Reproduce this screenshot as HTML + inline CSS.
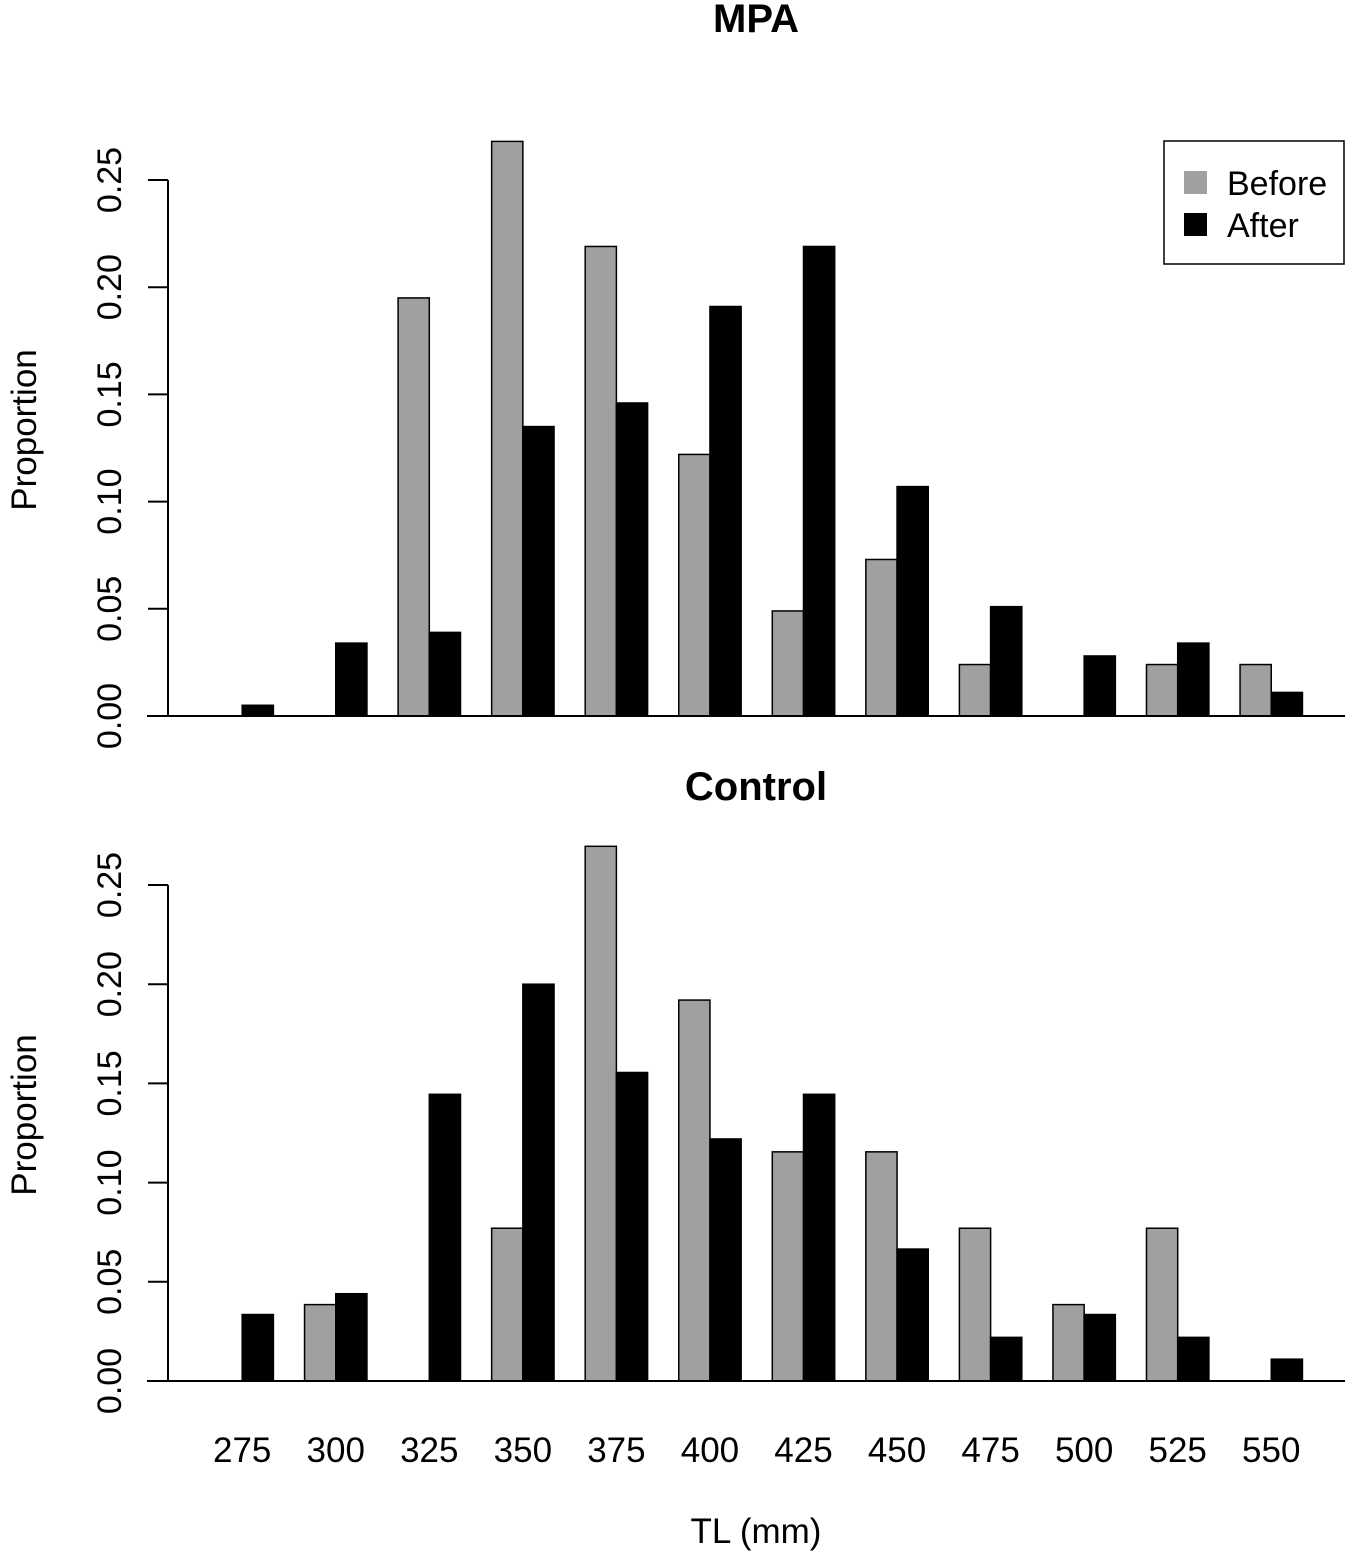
<!DOCTYPE html>
<html><head><meta charset="utf-8">
<style>
html,body{margin:0;padding:0;background:#fff;}
svg{display:block;font-family:"Liberation Sans",sans-serif;}
</style></head>
<body>
<svg id="chart" width="1350" height="1555" viewBox="0 0 1350 1555"></svg>
<script>
const categories = ["275","300","325","350","375","400","425","450","475","500","525","550"];
const mpaBefore = [0,0,0.195,0.268,0.219,0.122,0.049,0.073,0.024,0,0.024,0.024];
const mpaAfter = [0.005,0.034,0.039,0.135,0.146,0.191,0.219,0.107,0.051,0.028,0.034,0.011];
const ctlBefore = [0,0.0385,0,0.077,0.2695,0.192,0.1155,0.1155,0.077,0.0385,0.077,0];
const ctlAfter = [0.0335,0.044,0.1445,0.2,0.1555,0.122,0.1445,0.0665,0.022,0.0335,0.022,0.011];
const yTicks = ["0.00","0.05","0.10","0.15","0.20","0.25"];

const NS="http://www.w3.org/2000/svg";
const svg=document.getElementById('chart');
function mk(tag,attrs,parent){const e=document.createElementNS(NS,tag);for(const k in attrs)e.setAttribute(k,attrs[k]);(parent||svg).appendChild(e);return e;}

const barW=31.2, groupStep=93.55, firstGray=211;
function xGray(i){return firstGray+i*groupStep;}

function panel(name,title,titleY,y0,y25,before,after){
  const g=mk('g',{});
  
  
  const yS=v=>y0-(v/0.25)*(y0-y25);
  const t=mk('text',{x:756,y:titleY,'text-anchor':'middle','font-size':40,'font-weight':'bold'},g);
  t.textContent=title;
  
  
  const ax=mk('line',{x1:168,x2:168,y1:yS(0),y2:yS(0.25),stroke:'#000','stroke-width':2},g);
  
  
  yTicks.forEach((lab)=>{
    const v=parseFloat(lab), y=yS(v);
    const tk=mk('line',{x1:148,x2:168,y1:y,y2:y,stroke:'#000','stroke-width':2},g);
    
    
    const tl=mk('text',{x:0,y:0,'text-anchor':'middle','font-size':34,transform:`translate(121,${y}) rotate(-90)`},g);
    tl.textContent=lab;
    
    
  });
  const yl=mk('text',{x:0,y:0,'text-anchor':'middle','font-size':35,transform:`translate(36,${(yS(0)+yS(0.25))/2-18}) rotate(-90)`},g);
  yl.textContent='Proportion';
  
  
  categories.forEach((c,i)=>{
    const xg=xGray(i);
    if(before[i]>0){
      const r=mk('rect',{x:xg,y:yS(before[i]),width:barW,height:yS(0)-yS(before[i]),fill:'#a0a0a0',stroke:'#000','stroke-width':1.5},g);
      
      
    }
    if(after[i]>0){
      const r=mk('rect',{x:xg+barW,y:yS(after[i]),width:barW,height:yS(0)-yS(after[i]),fill:'#000',stroke:'#000','stroke-width':1.5},g);
      
      
    }
  });
  const bl=mk('line',{x1:147,x2:1345,y1:yS(0),y2:yS(0),stroke:'#000','stroke-width':2},g);
  
  
}
panel('mpa','MPA',32,716,180,mpaBefore,mpaAfter);
panel('control','Control',800,1381,885,ctlBefore,ctlAfter);

categories.forEach((c,i)=>{
  const t=mk('text',{x:xGray(i)+barW,y:1462,'text-anchor':'middle','font-size':35});
  t.textContent=c;
  
  
});
const xt=mk('text',{x:756,y:1543,'text-anchor':'middle','font-size':35});
xt.textContent='TL (mm)';



const lg=mk('g',{});


mk('rect',{x:1164,y:141,width:180,height:123,fill:'#fff',stroke:'#000','stroke-width':1.5},lg);
const s1=mk('rect',{x:1184,y:171,width:23,height:23,fill:'#a0a0a0'},lg);


const s2=mk('rect',{x:1184,y:213,width:23,height:23,fill:'#000'},lg);


const t1=mk('text',{x:1227,y:195,'font-size':34},lg);
t1.textContent='Before';


const t2=mk('text',{x:1227,y:237,'font-size':34},lg);
t2.textContent='After';


</script>
</body></html>
